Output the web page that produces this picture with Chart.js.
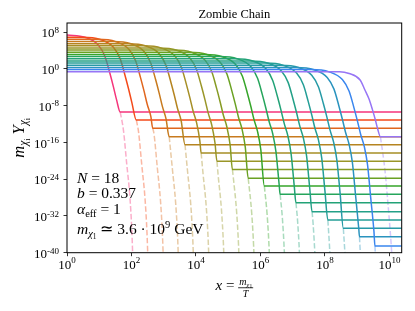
<!DOCTYPE html>
<html>
<head>
<meta charset="utf-8">
<script src="https://cdn.jsdelivr.net/npm/chart.js@4.4.0/dist/chart.umd.min.js"></script>
<style>
  html, body { margin: 0; padding: 0; background: #fff; }
  #wrap { width: 415px; height: 311px; position: relative; }
</style>
</head>
<body>
<div id="wrap"><canvas id="chart"></canvas></div>
<script>
// Curves are stored as [log10 x, log10 (m Y)] pairs.
// Solid: full solution for each species. Dashed: equilibrium tail below the freeze-out plateau.
const solidCurves = [
  [[0,7.39],[0.56,6.89],[0.97,5.21],[1.18,2.66],[1.33,-0.95],[1.44,-3.90],[1.54,-6.80],[1.65,-9.37],[10.38,-9.37]],
  [[0,6.92],[0.47,6.92],[1.03,6.42],[1.44,4.74],[1.65,2.19],[1.80,-1.42],[1.91,-4.37],[2.01,-7.27],[2.15,-11.11],[10.38,-11.11]],
  [[0,6.45],[0.95,6.45],[1.51,5.95],[1.92,4.27],[2.13,1.72],[2.28,-1.89],[2.39,-4.84],[2.49,-7.74],[2.60,-10.34],[2.66,-12.92],[10.38,-12.92]],
  [[0,5.98],[1.42,5.98],[1.98,5.48],[2.39,3.80],[2.60,1.25],[2.75,-2.36],[2.86,-5.31],[2.96,-8.21],[3.07,-10.81],[3.17,-14.75],[10.38,-14.75]],
  [[0,5.51],[1.89,5.51],[2.45,5.01],[2.86,3.33],[3.07,0.78],[3.22,-2.83],[3.33,-5.78],[3.43,-8.68],[3.54,-11.28],[3.66,-16.49],[10.38,-16.49]],
  [[0,5.04],[2.37,5.04],[2.93,4.54],[3.34,2.86],[3.55,0.31],[3.70,-3.30],[3.81,-6.25],[3.91,-9.15],[4.02,-11.75],[4.12,-15.65],[4.16,-18.30],[10.38,-18.30]],
  [[0,4.57],[2.84,4.57],[3.40,4.07],[3.81,2.39],[4.02,-0.16],[4.17,-3.77],[4.28,-6.72],[4.38,-9.62],[4.49,-12.22],[4.59,-16.12],[4.65,-20.10],[10.38,-20.10]],
  [[0,4.10],[3.31,4.10],[3.87,3.60],[4.28,1.92],[4.49,-0.63],[4.64,-4.24],[4.75,-7.19],[4.85,-10.09],[4.96,-12.69],[5.06,-16.59],[5.13,-21.89],[10.38,-21.89]],
  [[0,3.63],[3.78,3.63],[4.34,3.13],[4.75,1.45],[4.96,-1.10],[5.11,-4.71],[5.22,-7.66],[5.32,-10.56],[5.43,-13.16],[5.53,-17.06],[5.62,-23.80],[10.38,-23.80]],
  [[0,3.16],[4.26,3.16],[4.82,2.66],[5.23,0.98],[5.44,-1.57],[5.59,-5.18],[5.70,-8.13],[5.80,-11.03],[5.91,-13.63],[6.01,-17.53],[6.12,-25.48],[10.38,-25.48]],
  [[0,2.69],[4.73,2.69],[5.29,2.19],[5.70,0.51],[5.91,-2.04],[6.06,-5.65],[6.17,-8.60],[6.27,-11.50],[6.38,-14.10],[6.48,-18.00],[6.58,-25.20],[6.61,-27.29],[10.38,-27.29]],
  [[0,2.22],[5.20,2.22],[5.76,1.72],[6.17,0.04],[6.38,-2.51],[6.53,-6.12],[6.64,-9.07],[6.74,-11.97],[6.85,-14.57],[6.95,-18.47],[7.05,-25.67],[7.10,-29.12],[10.38,-29.12]],
  [[0,1.75],[5.68,1.75],[6.24,1.25],[6.65,-0.43],[6.86,-2.98],[7.01,-6.59],[7.12,-9.54],[7.22,-12.44],[7.33,-15.04],[7.43,-18.94],[7.53,-26.14],[7.60,-31.08],[10.38,-31.08]],
  [[0,1.28],[6.15,1.28],[6.71,0.78],[7.12,-0.90],[7.33,-3.45],[7.48,-7.06],[7.59,-10.01],[7.69,-12.91],[7.80,-15.51],[7.90,-19.41],[8.00,-26.61],[8.09,-32.88],[10.38,-32.88]],
  [[0,0.81],[6.62,0.81],[7.18,0.31],[7.59,-1.37],[7.80,-3.92],[7.95,-7.53],[8.06,-10.48],[8.16,-13.38],[8.27,-15.98],[8.37,-19.88],[8.47,-27.08],[8.57,-34.69],[10.38,-34.69]],
  [[0,0.34],[7.10,0.34],[7.66,-0.16],[8.07,-1.84],[8.28,-4.39],[8.43,-8.00],[8.54,-10.95],[8.64,-13.85],[8.75,-16.45],[8.85,-20.35],[8.95,-27.55],[9.05,-34.85],[9.07,-36.52],[10.38,-36.52]],
  [[0,-0.13],[7.57,-0.13],[8.13,-0.63],[8.54,-2.31],[8.75,-4.86],[8.90,-8.47],[9.01,-11.42],[9.11,-14.32],[9.22,-16.92],[9.32,-20.82],[9.42,-28.12],[9.52,-35.42],[9.55,-38.54],[10.38,-38.54]],
  [[0,-0.60],[8.45,-0.60],[8.75,-1.00],[9.09,-2.41],[9.24,-4.58],[9.37,-6.60],[9.47,-8.80],[9.56,-11.00],[9.64,-13.20],[9.72,-14.75],[10.38,-14.75]]
];

const dashedCurves = [
  [[1.65,-9.37],[1.75,-13.3],[1.85,-20.5],[1.95,-27.8],[2.01,-35.1],[2.04,-41.0]],
  [[2.15,-11.11],[2.22,-13.77],[2.32,-20.97],[2.42,-28.27],[2.48,-35.57],[2.51,-41.47]],
  [[2.66,-12.92],[2.70,-14.24],[2.80,-21.44],[2.90,-28.74],[2.96,-36.04],[2.99,-41.94]],
  [[3.17,-14.75],[3.27,-21.91],[3.37,-29.21],[3.43,-36.51],[3.46,-42.41]],
  [[3.66,-16.49],[3.74,-22.38],[3.84,-29.68],[3.90,-36.98],[3.93,-42.88]],
  [[4.16,-18.30],[4.22,-22.85],[4.32,-30.15],[4.38,-37.45],[4.41,-43.35]],
  [[4.65,-20.10],[4.69,-23.32],[4.79,-30.62],[4.85,-37.92],[4.88,-43.82]],
  [[5.13,-21.89],[5.16,-23.79],[5.26,-31.09],[5.32,-38.39],[5.35,-44.29]],
  [[5.62,-23.80],[5.73,-31.56],[5.79,-38.86],[5.82,-44.76]],
  [[6.12,-25.48],[6.21,-32.03],[6.27,-39.33],[6.30,-45.23]],
  [[6.61,-27.29],[6.68,-32.50],[6.74,-39.80],[6.77,-45.70]],
  [[7.10,-29.12],[7.15,-32.97],[7.21,-40.27],[7.24,-46.17]],
  [[7.60,-31.08],[7.63,-33.44],[7.69,-40.74],[7.72,-46.64]],
  [[8.09,-32.88],[8.16,-41.21],[8.19,-47.11]],
  [[8.57,-34.69],[8.63,-41.68],[8.66,-47.58]],
  [[9.07,-36.52],[9.11,-42.15],[9.14,-48.05]],
  [[9.55,-38.54],[9.58,-42.72],[9.61,-48.62]],
  [[9.72,-14.75],[9.86,-22.0],[9.95,-29.0],[10.02,-35.0],[10.07,-40.0],[10.09,-43.0]]
];

const curveColors = [
  '#f5357b', '#f44a1a', '#e0661e', '#c87a1e', '#b58420', '#a68f26',
  '#9a9628', '#879b24', '#6aa122', '#36a52a', '#25a55b', '#22a277',
  '#23a087', '#249e97', '#269aa6', '#2a93be', '#3a86ee', '#9775f5'
];

const xTickExps = [0, 2, 4, 6, 8, 10];
const yTickExps = [8, 0, -8, -16, -24, -32, -40];
const xRangeExp = [0, 10.38];
const yRangeExp = [-40, 10];

const SERIF = '"Liberation Serif", "Times New Roman", serif';

function toPoints(curve) {
    return curve.map(p => ({ x: 10 ** p[0], y: 10 ** p[1] }));
}

function withAlpha(hex, a) {
    const n = parseInt(hex.slice(1), 16);
    return `rgba(${(n >> 16) & 255},${(n >> 8) & 255},${n & 255},${a})`;
}

// draw a row of text runs [text, font, dy] starting at (x, y)
function runsWidth(ctx, runs) {
    let w = 0;
    for (const r of runs) { ctx.font = r[1]; w += ctx.measureText(r[0]).width; }
    return w;
}
function drawRuns(ctx, x, y, runs) {
    let cx = x;
    for (const r of runs) {
        ctx.font = r[1];
        ctx.fillText(r[0], cx, y + (r[2] || 0));
        cx += ctx.measureText(r[0]).width;
    }
    return cx;
}

const datasets = [];
solidCurves.forEach((c, i) => {
    datasets.push({
        data: toPoints(c),
        borderColor: curveColors[i],
        borderWidth: 1.5,
        pointRadius: 0,
        cubicInterpolationMode: 'monotone',
        order: solidCurves.length - i
    });
});
dashedCurves.forEach((c, i) => {
    datasets.push({
        data: toPoints(c),
        borderColor: withAlpha(curveColors[i], 0.4),
        borderWidth: 1.5,
        borderDash: [5.5, 2.4],
        pointRadius: 0,
        cubicInterpolationMode: 'monotone',
        order: 100 + dashedCurves.length - i
    });
});

const mathText = {
    id: 'mathText',
    afterDraw(chart) {
        const { ctx, chartArea: a, scales } = chart;
        const tick = '13px ' + SERIF;
        const tickExp = '9px ' + SERIF;
        ctx.save();
        ctx.strokeStyle = '#000';
        ctx.lineWidth = 1;
        ctx.strokeRect(a.left, a.top, a.right - a.left, a.bottom - a.top);
        ctx.fillStyle = '#000';
        ctx.textBaseline = 'alphabetic';

        xTickExps.forEach(e => {
            const px = scales.x.getPixelForValue(10 ** e);
            const runs = [['10', tick], [String(e), tickExp, -5.7]];
            const w = runsWidth(ctx, runs);
            drawRuns(ctx, px - w / 2, a.bottom + 16.3, runs);
        });
        yTickExps.forEach(e => {
            const py = scales.y.getPixelForValue(10 ** e);
            const runs = [['10', tick], [String(e), tickExp, -4.4]];
            const w = runsWidth(ctx, runs);
            drawRuns(ctx, a.left - 8 - w, py + 5.2, runs);
        });

        // title
        ctx.font = '12.5px ' + SERIF;
        ctx.textAlign = 'center';
        ctx.fillText('Zombie Chain', (a.left + a.right) / 2, 18.3);
        ctx.textAlign = 'left';

        const it = 'italic 15.5px ' + SERIF;
        const rm = '15.5px ' + SERIF;
        const sub = 'italic 10.5px ' + SERIF;
        const subsub = '7.5px ' + SERIF;

        // x label: x = m_chi1 / T
        const cx = (a.left + a.right) / 2;
        const left = [['x', 'italic 15px ' + SERIF], [' = ', '15px ' + SERIF]];
        const wl = runsWidth(ctx, left);
        const num = [['m', 'italic 10px ' + SERIF], ['\u03c7', 'italic 7px ' + SERIF, 1.5], ['1', '5.5px ' + SERIF, 3]];
        const wn = runsWidth(ctx, num);
        const total = wl + wn + 2;
        let x0 = cx - total / 2;
        drawRuns(ctx, x0, 290, left);
        const fx = x0 + wl;
        drawRuns(ctx, fx + 1, 285.3, num);
        ctx.fillRect(fx, 287.4, wn + 2, 0.8);
        ctx.font = 'italic 10px ' + SERIF;
        ctx.fillText('T', fx + (wn + 2) / 2 - 3, 296.5);

        // y label
        ctx.save();
        ctx.translate(24, (a.top + a.bottom) / 2);
        ctx.rotate(-Math.PI / 2);
        const yl = [['m', 'italic 16.5px ' + SERIF], ['\u03c7', 'italic 11.5px ' + SERIF, 3], ['i', '8px ' + SERIF, 5.5],
                    [' Y', 'italic 16.5px ' + SERIF], ['\u03c7', 'italic 11.5px ' + SERIF, 3], ['i', '8px ' + SERIF, 5.5]];
        const wy = runsWidth(ctx, yl);
        drawRuns(ctx, -wy / 2, 0, yl);
        ctx.restore();

        // parameter box
        const ax = a.left + 10;
        drawRuns(ctx, ax, 182.5, [['N', it], [' = ', rm], ['18', rm]]);
        drawRuns(ctx, ax, 198.3, [['b', it], [' = ', rm], ['0.337', rm]]);
        drawRuns(ctx, ax, 214.3, [['\u03b1', it], ['eff', '10.5px ' + SERIF, 3], [' = ', rm], ['1', rm]]);
        drawRuns(ctx, ax, 234, [['m', it], ['\u03c7', sub, 3], ['1', subsub, 5], [' \u2243 ', rm], ['3.6 \u00b7 10', rm], ['9', '10.5px ' + SERIF, -6], [' GeV', rm]]);
        ctx.restore();
    }
};

new Chart(document.getElementById('chart'), {
    type: 'line',
    data: { datasets: datasets },
    options: {
        responsive: true,
        maintainAspectRatio: false,
        animation: false,
        devicePixelRatio: 1,
        parsing: true,
        layout: { padding: { top: 23, right: 13.3, left: 0, bottom: 0 } },
        plugins: {
            legend: { display: false },
            tooltip: { enabled: false }
        },
        scales: {
            x: {
                type: 'logarithmic',
                min: 10 ** xRangeExp[0],
                max: 10 ** xRangeExp[1],
                ticks: { display: false },
                grid: { drawOnChartArea: false, drawTicks: true, tickLength: 3.5, color: '#000', lineWidth: 0.8 },
                border: { display: false },
                afterBuildTicks: s => { s.ticks = xTickExps.map(e => ({ value: 10 ** e })); },
                afterFit: s => { s.height = 58.3; }
            },
            y: {
                type: 'logarithmic',
                min: 10 ** yRangeExp[0],
                max: 10 ** yRangeExp[1],
                ticks: { display: false },
                grid: { drawOnChartArea: false, drawTicks: true, tickLength: 3.5, color: '#000', lineWidth: 0.8 },
                border: { display: false },
                afterBuildTicks: s => { s.ticks = yTickExps.map(e => ({ value: 10 ** e })); },
                afterFit: s => { s.height = undefined; s.width = 67; }
            }
        }
    },
    plugins: [mathText]
});
</script>
</body>
</html>
